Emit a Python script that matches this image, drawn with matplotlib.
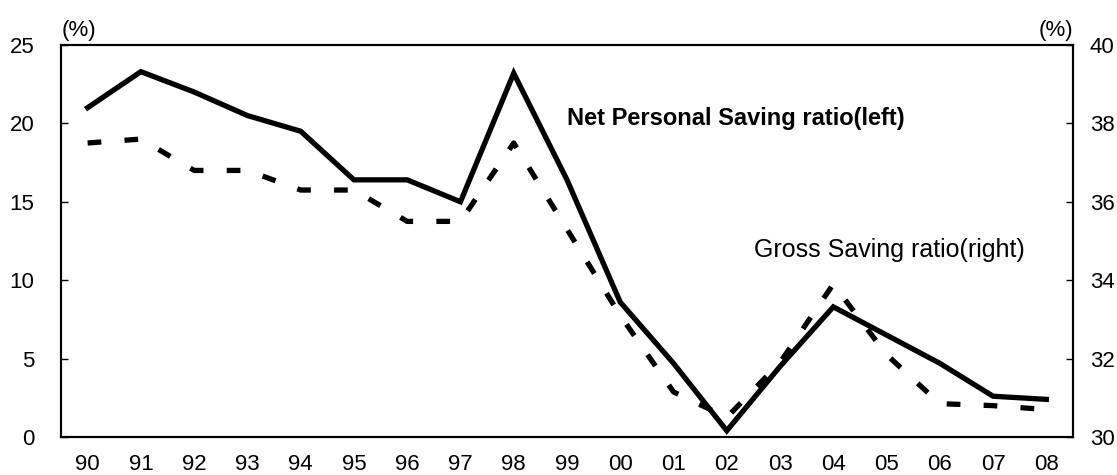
import matplotlib
matplotlib.use("Agg")
from matplotlib import pyplot as plt

plt.rcParams['font.family'] = ['Liberation Sans', 'DejaVu Sans']

years = ['90', '91', '92', '93', '94', '95', '96', '97', '98', '99',
         '00', '01', '02', '03', '04', '05', '06', '07', '08']
# net personal saving ratio, left axis (%)
net_saving = [21.0, 23.3, 22.0, 20.5, 19.5, 16.4, 16.4, 15.0, 23.2, 16.4,
              8.6, 4.7, 0.4, 4.5, 8.3, 6.5, 4.7, 2.6, 2.4]
# gross saving ratio, right axis (%)
gross_saving = [37.5, 37.6, 36.8, 36.8, 36.3, 36.3, 35.5, 35.5, 37.5, 35.3,
                33.1, 31.15, 30.5, 31.9, 33.9, 32.1, 30.85, 30.8, 30.7]

x = list(range(len(years)))

fig = plt.figure(figsize=(11.17, 4.75), dpi=100)
ax = fig.add_axes([0.0546, 0.08, 0.906, 0.8253])
ax2 = ax.twinx()

ax.plot(x, net_saving, color='black', linewidth=3.8, solid_joinstyle='miter')
ax2.plot(x, gross_saving, color='black', linewidth=3.8, linestyle=(0, (2.6, 4.4)),
         dash_capstyle='butt')

ax.set_xlim(-0.5, len(years) - 0.5)
ax.set_ylim(0, 25)
ax.set_yticks([0, 5, 10, 15, 20, 25])
ax2.set_ylim(30, 40)
ax2.set_yticks([30, 32, 34, 36, 38, 40])
ax.set_xticks(x)
ax.set_xticklabels(years)

ax.tick_params(axis='x', length=0, pad=12, labelsize=16)
ax.tick_params(axis='y', direction='in', length=5, width=1, pad=19, labelsize=16)
ax2.tick_params(axis='y', direction='in', length=5, width=1, pad=12, labelsize=16)

for a in (ax, ax2):
    for s in a.spines.values():
        s.set_linewidth(1.5)
        s.set_color('black')

fig.text(0.0555, 0.935, '(%)', fontsize=16, ha='left', va='center')
fig.text(0.9606, 0.935, '(%)', fontsize=16, ha='right', va='center')

ax.text(9.0, 20.3, 'Net Personal Saving ratio(left)', fontsize=17,
        fontweight='bold', ha='left', va='center')
ax2.text(12.52, 34.77, 'Gross Saving ratio(right)', fontsize=18,
         ha='left', va='center')

fig.savefig('out.png', dpi=100)
